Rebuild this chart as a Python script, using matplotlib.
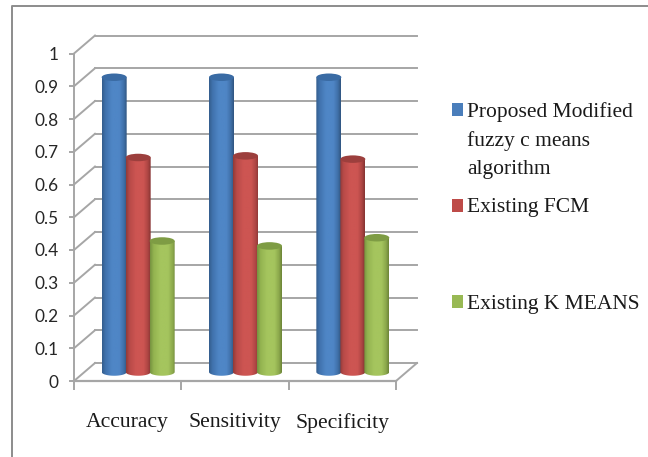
import numpy as np
import matplotlib
matplotlib.use("Agg")
import matplotlib.pyplot as plt
from matplotlib.colors import LinearSegmentedColormap
from matplotlib.lines import Line2D
from matplotlib.patches import Ellipse, Rectangle
from matplotlib.path import Path
from matplotlib.transforms import ScaledTranslation

categories = ["Accuracy", "Sensitivity", "Specificity"]
series_names = ["Proposed Modified\nfuzzy c means\nalgorithm", "Existing FCM", "Existing K MEANS"]
proposed = [0.90, 0.90, 0.90]
existing_fcm = [0.655, 0.66, 0.65]
existing_kmeans = [0.40, 0.385, 0.41]
y_ticks = [0, 0.1, 0.2, 0.3, 0.4, 0.5, 0.6, 0.7, 0.8, 0.9, 1]
y_labels = ["0", "0.1", "0.2", "0.3", "0.4", "0.5", "0.6", "0.7", "0.8", "0.9", "1"]

# shade ramps for the cylinders: dark rim, lit face, dark rim
ramps = {
    "blue": [(0, "#345d8c"), (0.14, "#4072ad"), (0.4, "#4f86c6"), (0.7, "#4f86c6"), (0.88, "#3f70a8"), (1, "#30557f")],
    "red": [(0, "#8f3a38"), (0.14, "#b84a48"), (0.4, "#cd5552"), (0.7, "#cd5552"), (0.88, "#ad4543"), (1, "#843332")],
    "green": [(0, "#75913f"), (0.14, "#93b350"), (0.4, "#a5c55e"), (0.7, "#a5c55e"), (0.88, "#8ca94c"), (1, "#6c8438")],
}
cap_colors = {"blue": "#3a6ba4", "red": "#9c3f3d", "green": "#7e9c44"}
series = [(proposed, "blue"), (existing_fcm, "red"), (existing_kmeans, "green")]
legend_colors = ["#4a7ebb", "#be4b48", "#98b954"]

W, H = 648, 457
GRID = "#a6a6a6"
fig = plt.figure(figsize=(W / 100, H / 100), dpi=100, facecolor="white")

# chart frame: only the top and left edges fall inside the page
fig.add_artist(Line2D([1, 12 / W, 12 / W], [1 - 6 / H, 1 - 6 / H, 0], transform=fig.transFigure,
                      color="#8c8c8c", lw=1.4))

# the axes rectangle is the front plane of the 3-D box
left, right, y0, y1 = 74, 396, 381, 53.5
ax = fig.add_axes([left / W, 1 - y0 / H, (right - left) / W, (y0 - y1) / H])
ax.patch.set_visible(False)
for s in ax.spines.values():
    s.set_visible(False)

# depth of the box, in points on the page
DX, DY = 21 * 0.72, 18 * 0.72
back = ax.transData + ScaledTranslation(DX / 72, DY / 72, fig.dpi_scale_trans)
mid = ax.transData + ScaledTranslation(DX / 144, DY / 144, fig.dpi_scale_trans)
dx_data = 21 / ((right - left) / 3)
dy_data = 18 / (y0 - y1)

# wall gridlines and the diagonal floor/side struts
for v in y_ticks:
    ax.plot([0, 3], [v, v], color=GRID, lw=1.4, transform=back, clip_on=False, zorder=1)
    ax.plot([0, dx_data], [v, v + dy_data], color=GRID, lw=1.4, clip_on=False, zorder=1)
ax.plot([3, 3 + dx_data], [0, dy_data], color=GRID, lw=1.4, clip_on=False, zorder=1)
ax.plot([0, 3], [0, 0], color=GRID, lw=1.6, clip_on=False, zorder=1)
ax.plot([0, 0], [0, 1], color=GRID, lw=1.4, clip_on=False, zorder=1)

ax.set_xticks(range(4))
ax.set_xticklabels([])
ax.set_yticks(y_ticks)
ax.set_yticklabels(y_labels, fontfamily="Lato", fontsize=12.4, color="#262626")
ax.tick_params(axis="y", length=3.6, width=1.4, color=GRID, pad=7.5)
ax.tick_params(axis="x", length=6.5, width=1.4, color=GRID)
for i, name in enumerate(categories):
    ax.text(i + 0.5, -0.128, name, ha="center", va="center", fontfamily="Liberation Serif",
            fontsize=15.6, color="#1a1a1a")

# cylinders: a gradient body clipped to the outline, topped by a darker cap
BAR_W = 25 / ((right - left) / 3)
CAP_H = 7.5 / (y0 - y1)
theta = np.linspace(np.pi, 2 * np.pi, 40)
for s_idx, (values, key) in enumerate(series):
    cmap = LinearSegmentedColormap.from_list(key, ramps[key])
    grad = np.linspace(0, 1, 128).reshape(1, -1)
    for c_idx, v in enumerate(values):
        xc = c_idx + 0.5 + (s_idx - 1) * BAR_W * 0.96
        z = 3 + s_idx
        im = ax.imshow(grad, extent=[xc - BAR_W / 2, xc + BAR_W / 2, -CAP_H / 2, v], cmap=cmap,
                       aspect="auto", transform=mid, zorder=z, interpolation="bilinear")
        # outline: rounded bottom edge, straight sides
        bx = xc + BAR_W / 2 * np.cos(theta)
        by = CAP_H / 2 * np.sin(theta)
        outline = np.column_stack([np.r_[bx, xc + BAR_W / 2, xc - BAR_W / 2, bx[0]],
                                   np.r_[by, v, v, by[0]]])
        im.set_clip_path(Path(outline), transform=mid)
        ax.add_patch(Ellipse((xc, v), BAR_W, CAP_H, transform=mid, fc=cap_colors[key], ec="none", zorder=z + 0.5))
ax.set_xlim(0, 3)
ax.set_ylim(0, 1)

# legend, placed by hand so the gaps between entries stay uneven
legend_rows = [(112, 109.5), (207, 205.5), (304, 301)]
for (text_y, box_y), name, col in zip(legend_rows, series_names, legend_colors):
    fig.add_artist(Rectangle((452 / W, 1 - (box_y + 6.5) / H), 11 / W, 13 / H,
                             transform=fig.transFigure, fc=col, ec="none"))
    for k, line in enumerate(name.split("\n")):
        fig.text(467 / W, 1 - (text_y + k * 29) / H, line, ha="left", va="center",
                 fontfamily="Liberation Serif", fontsize=15.5, color="#1a1a1a")

fig.savefig("out.png", dpi=100)
